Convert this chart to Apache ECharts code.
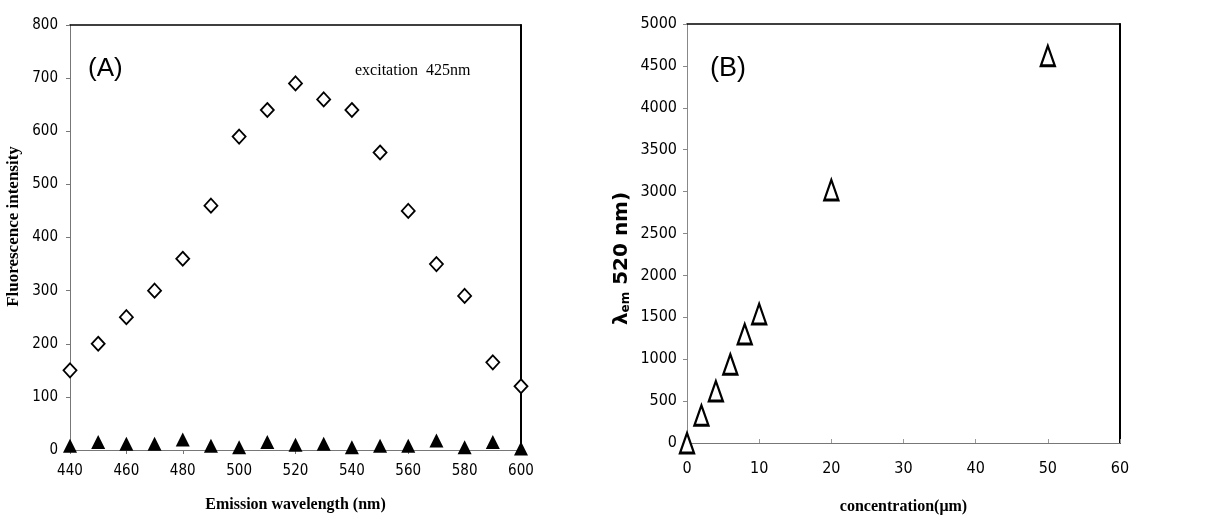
<!DOCTYPE html>
<html>
<head>
<meta charset="utf-8">
<script src="https://cdn.jsdelivr.net/npm/echarts@6/dist/echarts.min.js"></script>
<style>
  html, body { margin: 0; padding: 0; background: #fff; }
  #main { width: 1227px; height: 522px; }
</style>
</head>
<body>
<div id="main"></div>
<script>
// panel A: emission spectrum
var wavelengths = [440, 450, 460, 470, 480, 490, 500, 510, 520, 530, 540, 550, 560, 570, 580, 590, 600];
var withProbe = [150, 200, 250, 300, 360, 460, 590, 640, 690, 660, 640, 560, 450, 350, 290, 165, 120];
var blank = [8, 15, 12, 12, 20, 8, 5, 15, 10, 12, 5, 8, 8, 18, 5, 15, 3];

// panel B: intensity vs concentration
var concentration = [0, 2, 4, 6, 8, 10, 20, 50];
var intensity520 = [0, 330, 620, 940, 1300, 1540, 3020, 4620];

var myChart = echarts.init(document.getElementById('main'));

var tickA = { fontFamily: 'DejaVu Sans Condensed', fontSize: 15, color: '#000' };
var tickB = { fontFamily: 'DejaVu Sans Condensed', fontSize: 16, color: '#000' };
var plain = function (v) { return String(v); };

// black frame lines on top / right of each plot
function frameX(grid, min, max) {
  return {
    gridIndex: grid, type: 'value', position: 'top', min: min, max: max,
    axisLine: { show: true, onZero: false, lineStyle: { color: '#000', width: 1.5 } },
    axisTick: { show: false }, axisLabel: { show: false }, splitLine: { show: false }
  };
}
function frameY(grid, min, max) {
  return {
    gridIndex: grid, type: 'value', position: 'right', min: min, max: max,
    axisLine: { show: true, onZero: false, lineStyle: { color: '#000', width: 2 } },
    axisTick: { show: false }, axisLabel: { show: false }, splitLine: { show: false }
  };
}

var option = {
  animation: false,
  backgroundColor: '#fff',
  grid: [
    { left: 70, top: 25, width: 451, height: 425 },
    { left: 687, top: 24, width: 433, height: 419 }
  ],
  graphic: [
    { type: 'text', left: 88, top: 56, style: { text: '(A)', font: '26px "Liberation Sans"', fill: '#000' } },
    { type: 'text', left: 355, top: 63, style: { text: 'excitation  425nm', font: '16px "Liberation Serif"', fill: '#000' } },
    { type: 'text', left: 710, top: 55, style: { text: '(B)', font: '27px "Liberation Sans"', fill: '#000' } }
  ],
  xAxis: [
    {
      gridIndex: 0, type: 'value', min: 440, max: 600, interval: 20,
      name: 'Emission wavelength (nm)', nameLocation: 'middle', nameGap: 47,
      nameTextStyle: { fontFamily: 'Liberation Serif', fontWeight: 'bold', fontSize: 16, color: '#000' },
      axisLine: { onZero: false, lineStyle: { color: '#777', width: 1 } },
      axisTick: { show: true, length: 4, lineStyle: { color: '#777' } },
      axisLabel: Object.assign({ margin: 14, formatter: plain }, tickA), splitLine: { show: false }
    },
    frameX(0, 440, 600),
    {
      gridIndex: 1, type: 'value', min: 0, max: 60, interval: 10,
      name: 'concentration(\u03bcm)', nameLocation: 'middle', nameGap: 56,
      nameTextStyle: { fontFamily: 'Liberation Serif', fontWeight: 'bold', fontSize: 16, color: '#000' },
      axisLine: { onZero: false, lineStyle: { color: '#777', width: 1 } },
      axisTick: { show: true, inside: true, length: 4, lineStyle: { color: '#999' } },
      axisLabel: Object.assign({ margin: 18, formatter: plain }, tickB), splitLine: { show: false }
    },
    frameX(1, 0, 60)
  ],
  yAxis: [
    {
      gridIndex: 0, type: 'value', min: 0, max: 800, interval: 100,
      name: 'Fluorescence intensity', nameLocation: 'middle', nameGap: 48,
      nameTextStyle: { fontFamily: 'Liberation Serif', fontWeight: 'bold', fontSize: 17, color: '#000', padding: [0, 0, 0, 22] },
      axisLine: { show: true, onZero: false, lineStyle: { color: '#777', width: 1 } },
      axisTick: { show: true, length: 4, lineStyle: { color: '#777' } },
      axisLabel: Object.assign({ margin: 12, formatter: plain }, tickA), splitLine: { show: false }
    },
    frameY(0, 0, 800),
    {
      gridIndex: 1, type: 'value', min: 0, max: 5000, interval: 500,
      name: '{l|\u03bb}{s|em}{l| 520 nm)}', nameLocation: 'middle', nameGap: 55,
      nameTextStyle: {
        padding: [0, 50, 0, 0],
        rich: {
          l: { fontFamily: 'DejaVu Sans', fontWeight: 'bold', fontSize: 20, color: '#000' },
          s: { fontFamily: 'DejaVu Sans', fontWeight: 'bold', fontSize: 12, color: '#000', padding: [8, 0, 0, 0] }
        }
      },
      axisLine: { show: true, onZero: false, lineStyle: { color: '#888', width: 1 } },
      axisTick: { show: true, length: 4, lineStyle: { color: '#888' } },
      axisLabel: Object.assign({ margin: 10, formatter: plain }, tickB), splitLine: { show: false }
    },
    frameY(1, 0, 5000)
  ],
  series: [
    {
      name: 'probe', type: 'scatter', xAxisIndex: 0, yAxisIndex: 0,
      data: wavelengths.map(function (w, i) { return [w, withProbe[i]]; }),
      symbol: 'diamond', symbolSize: [13, 14],
      itemStyle: { color: '#fff', borderColor: '#000', borderWidth: 1.8, opacity: 1 }
    },
    {
      name: 'blank', type: 'scatter', xAxisIndex: 0, yAxisIndex: 0,
      data: wavelengths.map(function (w, i) { return [w, blank[i]]; }),
      symbol: 'triangle', symbolSize: [14, 14],
      itemStyle: { color: '#000', opacity: 1 }
    },
    {
      name: 'conc', type: 'scatter', xAxisIndex: 2, yAxisIndex: 2,
      data: concentration.map(function (c, i) { return [c, intensity520[i]]; }),
      symbol: 'triangle', symbolSize: [14, 20],
      itemStyle: { color: '#fff', borderColor: '#000', borderWidth: 2.5, opacity: 1 }
    }
  ]
};

myChart.setOption(option);
</script>
</body>
</html>
